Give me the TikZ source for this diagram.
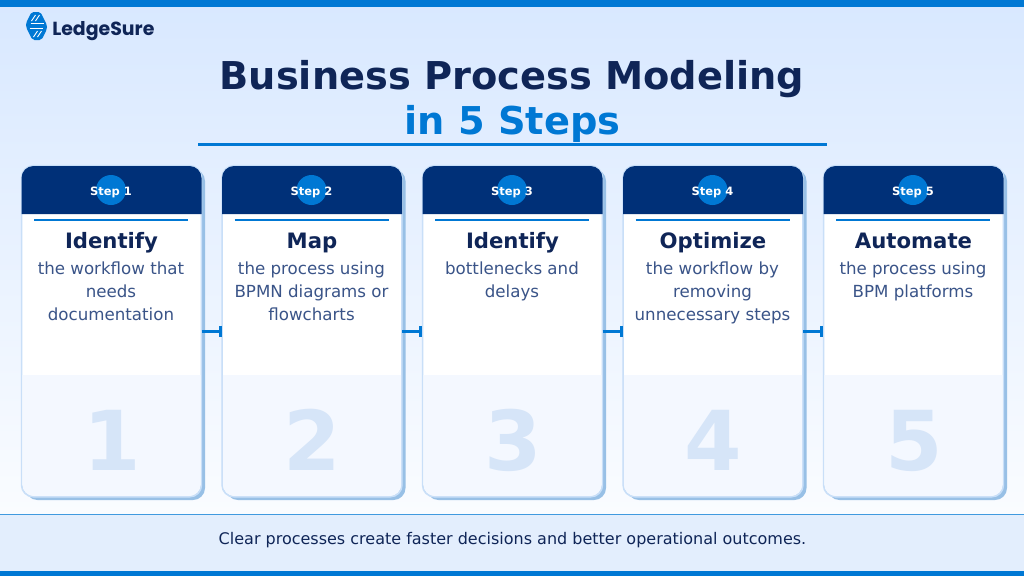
\documentclass[tikz,border=0pt]{standalone}
\usepackage{fontspec}
\setmainfont{DejaVu Sans}
\newfontfamily\logofont{Poppins}
\usetikzlibrary{calc,positioning,arrows.meta}
\definecolor{navy}{HTML}{0F2557}
\definecolor{headblue}{HTML}{003078}
\definecolor{brand}{HTML}{0078D4}
\definecolor{bodyblue}{HTML}{3A5488}
\definecolor{edgeblue}{HTML}{C9DFF8}
\definecolor{shadowblue}{HTML}{98C0E6}
\definecolor{panelblue}{HTML}{F4F8FF}
\definecolor{numblue}{HTML}{D6E5F8}
\definecolor{bgtop}{HTML}{D8E8FF}
\definecolor{bgbot}{HTML}{FAFCFF}
\definecolor{footblue}{HTML}{E3EEFD}
\tikzset{
  card/.style={draw=edgeblue, line width=0.8pt, fill=white, rounded corners=9pt, minimum width=134.5pt, minimum height=247.9pt, inner sep=0pt},
  stepdot/.style={circle, fill=brand, minimum size=22.5pt, inner sep=0pt},
  steptag/.style={text=white, anchor=base, font=\bfseries\fontsize{8.6}{10}\selectfont},
  headline/.style={text=navy, anchor=base, font=\bfseries\fontsize{15.9}{18}\selectfont},
  bodytext/.style={text=bodyblue, align=center, anchor=north, font=\fontsize{12.5}{17.4}\selectfont},
  bignum/.style={text=numblue, anchor=base, font=\bfseries\fontsize{62}{70}\selectfont},
  flow/.style={draw=brand, line width=1.9pt, -{Bar[width=8pt,line width=2.2pt]}},
}
\begin{document}
\begin{tikzpicture}[x=0.75pt,y=-0.75pt]
\useasboundingbox (0,0) rectangle (1024,576);
\shade[top color=bgtop, bottom color=bgbot] (0,0) rectangle (1024,514);
\fill[footblue] (0,514) rectangle (1024,571);
\draw[color=brand!75, line width=0.8pt] (0,514.5) -- (1024,514.5);
\fill[brand] (0,0) rectangle (1024,7);
\fill[brand] (0,571) rectangle (1024,576);

% logo
\begin{scope}[shift={(36.5,26)}]
\fill[brand, rounded corners=1.5pt] (-5,-14) -- (4,-14) -- (10.5,-1) -- (10.5,3) -- (5,14) -- (-4,14) -- (-10.5,1) -- (-10.5,-3) -- cycle;
\draw[white, line width=0.7pt] (-6,-3) -- (7,-3) (-7,2) -- (6,2);
\draw[white, line width=0.7pt] (-1,-11) -- (-5,-5) (3,-11) -- (-1,-5) (1,11) -- (5,5) (-3,11) -- (1,5);
\end{scope}
\node[text=navy, font=\logofont\bfseries\fontsize{14.2}{16}\selectfont, anchor=base west, inner sep=0pt] (logo) at (52,35) {LedgeSure};

% title
\node[text=navy, font=\bfseries\fontsize{28.75}{32}\selectfont, anchor=base, inner sep=0pt] (title) at (512,89) {Business Process Modeling};
\node[text=brand, font=\bfseries\fontsize{28.75}{32}\selectfont, anchor=base, inner sep=0pt] (subtitle) at (512.5,134) {in 5 Steps};
\draw[brand, line width=2.2pt] (198,144.5) -- (827,144.5);

% cards
\foreach \i/\x/\head/\body in {
  1/111.5/Identify/{the workflow that\\needs\\documentation},
  2/312/Map/{the process using\\BPMN diagrams or\\flowcharts},
  3/512.5/Identify/{bottlenecks and\\delays},
  4/713/Optimize/{the workflow by\\removing\\unnecessary steps},
  5/913.5/Automate/{the process using\\BPM platforms}}{
  \fill[shadowblue, rounded corners=9pt] (\x-86,169) rectangle (\x+93.5,500);
  \node[card] (C\i) at (\x,331.25) {};
  \fill[panelblue, rounded corners=9pt] (\x-89.2,375) -- (\x-89.2,496) -- (\x+89.2,496) -- (\x+89.2,375);
  \draw[edgeblue, line width=0.8pt, rounded corners=9pt] (C\i.north west) rectangle (C\i.south east);
  \fill[headblue, rounded corners=9pt] (\x-90,214) -- (\x-90,166) -- (\x+90,166) -- (\x+90,214);
  \node[stepdot] (D\i) at (\x-0.5,190) {};
  \node[steptag] (S\i) at (\x-0.5,195) {Step \i};
  \draw[brand, line width=1.5pt] (\x-77.5,220) -- (\x+76.5,220);
  \node[headline] (H\i) at (\x,248) {\head};
  \node[bodytext] (B\i) at (\x-0.5,257) {\body};
  \node[bignum] (N\i) at (\x+0.5,470) {\i};
}
\foreach \i/\j in {C1/C2,C2/C3,C3/C4,C4/C5}{\draw[flow] (\i) -- (\j);}

% footer
\node[text=navy, font=\fontsize{12}{14}\selectfont, anchor=base, inner sep=0pt] (foot) at (512.5,544) {Clear processes create faster decisions and better operational outcomes.};
\end{tikzpicture}
\end{document}
